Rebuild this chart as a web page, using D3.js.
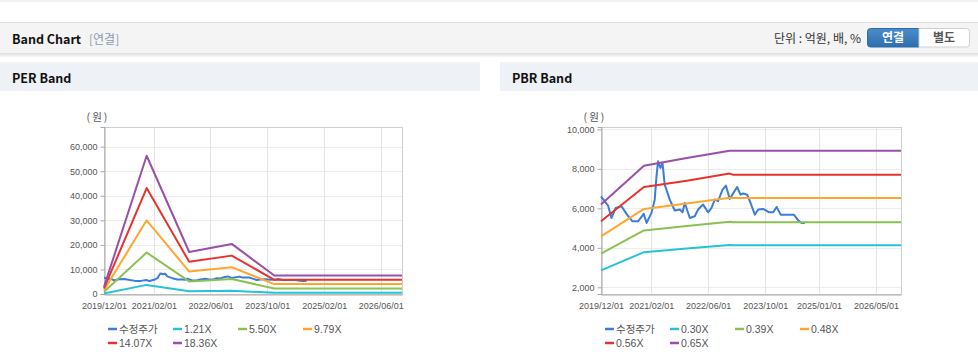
<!DOCTYPE html>
<html><head><meta charset="utf-8">
<script src="https://cdn.jsdelivr.net/npm/d3@7/dist/d3.min.js"></script>
<style>
html,body{margin:0;padding:0;background:#fff;}
svg{display:block;}
.tk text{font-family:Arial,'Liberation Sans',sans-serif;font-size:9px;fill:#555;}
</style></head>
<body><svg id="c" width="978" height="362"></svg>
<script>
// ---------- DATA ----------
const priceDates = ['2019-12-01','2020-01-30','2020-02-28','2020-04-04','2020-05-24','2020-07-10','2020-08-25','2020-10-12','2020-11-29','2020-12-24','2021-02-03','2021-03-03','2021-03-18','2021-03-31','2021-04-21','2021-05-08','2021-05-27','2021-07-09','2021-08-21','2021-10-02','2021-10-26','2021-11-14','2021-12-27','2022-02-07','2022-03-08','2022-04-19','2022-06-01','2022-06-30','2022-07-28','2022-08-25','2022-10-02','2022-10-30','2022-12-03','2023-02-03','2023-03-04','2023-03-27','2023-04-30','2023-05-29','2023-07-04','2023-08-02','2023-09-13','2023-11-03','2023-12-08','2024-01-06','2024-02-09','2024-04-14','2024-06-01','2024-07-08','2024-08-06','2024-09-03'];
const priceValues = [6600,6140,5510,6020,6100,5680,5340,5340,5720,5260,5770,6440,7620,8380,8050,8300,7200,6440,5890,5940,5800,6270,5510,5600,5940,6190,5800,6020,6440,6360,6950,7150,6480,7080,6690,6750,6690,6270,5680,5940,5970,5800,5800,6070,5680,5680,5680,5390,5260,5260];

const perBandDates = ['2019-12-01','2020-12-01','2021-12-01','2022-12-01','2023-12-01','2026-12-01'];
const per121  = [190, 3710, 1130, 1345, 498, 498];
const per550  = [880, 16860, 5120, 6110, 2265, 2265];
const per979  = [1570, 30020, 9120, 10880, 4030, 4030];
const per1407 = [2250, 43150, 13100, 15630, 5790, 5790];
const per1836 = [2900, 56300, 17100, 20400, 7560, 7560];

const pbrBandDates = ['2019-12-01','2020-12-01','2021-12-01','2022-12-01','2023-01-01','2026-12-01'];
const pbr030 = [2860, 3780, 3960, 4140, 4130, 4130];
const pbr039 = [3700, 4880, 5110, 5320, 5300, 5300];
const pbr048 = [4580, 5970, 6250, 6530, 6520, 6520];
const pbr056 = [5350, 7080, 7400, 7760, 7700, 7700];
const pbr065 = [6190, 8160, 8550, 8920, 8920, 8920];

const perLegend = ['수정주가','1.21X','5.50X','9.79X','14.07X','18.36X'];
const pbrLegend = ['수정주가','0.30X','0.39X','0.48X','0.56X','0.65X'];
const perXTicks = ['2019-12-01','2021-02-01','2022-06-01','2023-10-01','2025-02-01','2026-06-01'];
const pbrXTicks = ['2019-12-01','2021-02-01','2022-06-01','2023-10-01','2025-01-01','2026-05-01'];
const perYTicks = [0,10000,20000,30000,40000,50000,60000];
const pbrYTicks = [2000,4000,6000,8000,10000];
const xRange = ['2019-12-01','2026-12-01'];
const perYDomain = [0, 68000];
const pbrYDomain = [1660, 10120];
const colors = ['#3b7dd8','#26c3d6','#8cc152','#ffa62e','#e8322f','#9a4fa8'];

// ---------- RENDER ----------
const P = d3.timeParse('%Y-%m-%d');
const svg = d3.select('#c');
const KR = "'Noto Sans CJK KR','Noto Sans',sans-serif";
const defs = svg.append('defs');
const sh = defs.append('linearGradient').attr('id','sh').attr('x1',0).attr('x2',0).attr('y1',0).attr('y2',1);
sh.append('stop').attr('offset','0').attr('stop-color','#000').attr('stop-opacity',0.13);
sh.append('stop').attr('offset','1').attr('stop-color','#000').attr('stop-opacity',0);
const bg = defs.append('linearGradient').attr('id','btn').attr('x1',0).attr('x2',0).attr('y1',0).attr('y2',1);
bg.append('stop').attr('offset','0').attr('stop-color','#4a8ccb');
bg.append('stop').attr('offset','1').attr('stop-color','#2f6ead');

// top strip
svg.append('rect').attr('x',0).attr('y',0).attr('width',978).attr('height',2).attr('fill','#f1f1f1');
// header bar
svg.append('rect').attr('x',0).attr('y',22).attr('width',978).attr('height',31).attr('fill','#f4f4f4');
svg.append('rect').attr('x',0).attr('y',22).attr('width',978).attr('height',1).attr('fill','#dedede');
svg.append('rect').attr('x',0).attr('y',53).attr('width',978).attr('height',5).attr('fill','url(#sh)');
svg.append('text').attr('x',12).attr('y',44).attr('font-family',KR).attr('font-weight','bold').attr('font-size',12.5).attr('fill','#111').text('Band Chart');
svg.append('text').attr('x',89).attr('y',44).attr('font-family',KR).attr('font-size',12).attr('fill','#8a9ab0').text('[연결]');
svg.append('text').attr('x',861).attr('y',43).attr('text-anchor','end').attr('font-family',KR).attr('font-size',12).attr('fill','#333').text('단위 : 억원, 배, %');
// buttons
svg.append('path').attr('d','M870.5,28.5 h48.5 v18.5 h-48.5 a3,3 0 0 1 -3,-3 v-12.5 a3,3 0 0 1 3,-3z').attr('fill','url(#btn)').attr('stroke','#2c6aa8');
svg.append('path').attr('d','M919,28.5 h47.5 a3,3 0 0 1 3,3 v12.5 a3,3 0 0 1 -3,3 h-47.5z').attr('fill','#fff').attr('stroke','#cfcfcf');
svg.append('text').attr('x',893).attr('y',42).attr('text-anchor','middle').attr('font-family',KR).attr('font-weight','bold').attr('font-size',12).attr('fill','#fff').text('연결');
svg.append('text').attr('x',944).attr('y',42).attr('text-anchor','middle').attr('font-family',KR).attr('font-weight','bold').attr('font-size',12).attr('fill','#555').text('별도');

function panel(x0, w, title){
  svg.append('rect').attr('x',x0).attr('y',62).attr('width',w).attr('height',1).attr('fill','#f3f3f3');
  svg.append('rect').attr('x',x0).attr('y',63).attr('width',w).attr('height',28).attr('fill','#eef1f6');
  svg.append('text').attr('x',x0+12).attr('y',83).attr('font-family',KR).attr('font-weight','bold').attr('font-size',12.5).attr('fill','#111').text(title);
}
panel(0,480,'PER Band');
panel(500,478,'PBR Band');

function chart(o){
  const x = d3.scaleTime().domain(xRange.map(P)).range([o.l, o.r]);
  const y = d3.scaleLinear().domain(o.yDomain).range([o.b, o.t]);
  const g = svg.append('g');
  // grid
  g.append('g').selectAll('line').data(o.yTicks).join('line')
    .attr('x1',o.l).attr('x2',o.r).attr('y1',d=>Math.round(y(d))+0.5).attr('y2',d=>Math.round(y(d))+0.5)
    .attr('stroke','#ececec');
  g.append('g').selectAll('line').data(o.xTicks.map(P)).join('line')
    .attr('y1',o.t).attr('y2',o.b).attr('x1',d=>Math.round(x(d))+0.5).attr('x2',d=>Math.round(x(d))+0.5)
    .attr('stroke','#e3e3e3');
  g.append('rect').attr('x',o.l+0.5).attr('y',o.t+0.5).attr('width',o.r-o.l).attr('height',o.b-o.t)
    .attr('fill','none').attr('stroke','#cfcfcf');
  // axes
  const ya = g.append('g').attr('class','tk').attr('transform',`translate(${o.l+0.5},0)`)
    .call(d3.axisLeft(y).tickValues(o.yTicks).tickSize(4).tickPadding(3).tickFormat(d3.format(',')));
  ya.select('.domain').attr('stroke','#a9a9a9');
  ya.selectAll('.tick line').attr('stroke','#a9a9a9');
  const xa = g.append('g').attr('class','tk').attr('transform',`translate(0,${o.b+0.5})`)
    .call(d3.axisBottom(x).tickValues(o.xTicks.map(P)).tickSize(0).tickPadding(8).tickFormat(d3.timeFormat('%Y/%m/%d')));
  xa.select('.domain').attr('stroke','#a9a9a9');
  g.append('text').attr('x',o.l-6).attr('y',o.t-6).attr('text-anchor','middle').attr('font-family',KR)
    .attr('font-size',10.5).attr('fill','#555').attr('letter-spacing',2).text('(원)');
  // series
  const line = d3.line().x(d=>x(d[0])).y(d=>y(d[1]));
  o.series.forEach((s,i)=>{
    const pts = s.dates.map((d,k)=>[P(d), s.values[k]]);
    g.append('path').datum(pts).attr('d',line).attr('fill','none')
      .attr('stroke',colors[i]).attr('stroke-width',2).attr('stroke-linejoin','round');
  });
  // legend
  const lg = g.append('g').attr('transform',`translate(${o.l+4},0)`);
  o.legend.forEach((name,i)=>{
    const col = i<4 ? i : i-4, row = i<4 ? 0 : 1;
    const gx = col*65, gy = 329 + row*14;
    lg.append('line').attr('x1',gx).attr('x2',gx+9).attr('y1',gy).attr('y2',gy)
      .attr('stroke',colors[i]).attr('stroke-width',2.5);
    lg.append('text').attr('x',gx+11).attr('y',gy+4).attr('font-family',"Arial,'Liberation Sans','Noto Sans CJK KR',sans-serif")
      .attr('font-size',10.5).attr('fill','#555').text(name);
  });
}

chart({l:104, r:402, t:127, b:294, yDomain:perYDomain, yTicks:perYTicks, xTicks:perXTicks, legend:perLegend,
  series:[
    {dates:priceDates, values:priceValues},
    {dates:perBandDates, values:per121},
    {dates:perBandDates, values:per550},
    {dates:perBandDates, values:per979},
    {dates:perBandDates, values:per1407},
    {dates:perBandDates, values:per1836}
  ]});
chart({l:601, r:901, t:127, b:294, yDomain:pbrYDomain, yTicks:pbrYTicks, xTicks:pbrXTicks, legend:pbrLegend,
  series:[
    {dates:priceDates, values:priceValues},
    {dates:pbrBandDates, values:pbr030},
    {dates:pbrBandDates, values:pbr039},
    {dates:pbrBandDates, values:pbr048},
    {dates:pbrBandDates, values:pbr056},
    {dates:pbrBandDates, values:pbr065}
  ]});
</script></body></html>
